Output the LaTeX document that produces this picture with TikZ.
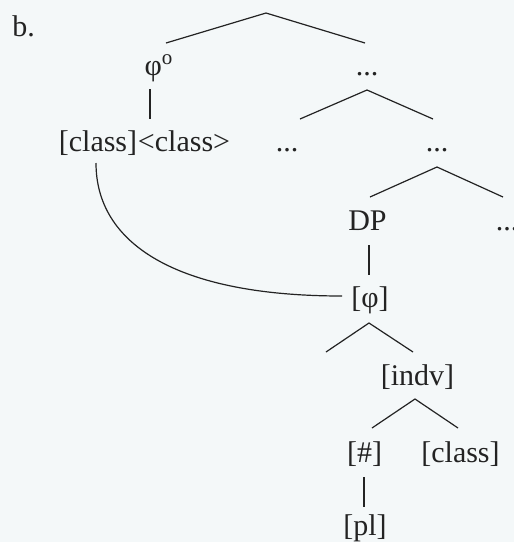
\documentclass[tikz,border=0pt]{standalone}
\usepackage{fontspec}
\setmainfont{Liberation Serif}
\definecolor{bgc}{RGB}{244,248,249}
\definecolor{ink}{RGB}{35,35,35}
\begin{document}
\begin{tikzpicture}[x=0.5pt,y=-0.5pt,
  lbl/.style={anchor=base, inner sep=0pt, text=ink, font=\fontsize{15}{18}\selectfont},
  edge/.style={draw=ink, line width=0.6pt}]
\fill[bgc] (0,0) rectangle (514,542);
\useasboundingbox (0,0) rectangle (514,542);

% labels
\node[lbl, anchor=base west] (b) at (12,36) {b.};
\node[lbl] (phio) at (159,75) {φ\textsuperscript{o}};
\node[lbl] (d1) at (367,75) {...};
\node[lbl] (cls1) at (98,151) {[class]};
\node[lbl, anchor=base west] (cls2) at (cls1.base east) {<class>};
\node[lbl] (d2) at (287,151) {...};
\node[lbl] (d3) at (437,151) {...};
\node[lbl] (dp) at (367.5,230) {DP};
\node[lbl] (d4) at (507,230) {...};
\node[lbl] (phi) at (370,307) {[φ]};
\node[lbl] (indv) at (417.5,385) {[indv]};
\node[lbl] (num) at (364.5,462) {[\#]};
\node[lbl] (cls3) at (460.5,462) {[class]};
\node[lbl] (pl) at (365,535) {[pl]};

% branching points and branch ends
\coordinate (root) at (266,13);
\coordinate (root-l) at (166,43);
\coordinate (root-r) at (365,43);
\coordinate (phio-b) at (150,89);
\coordinate (cls-t) at (150,119);
\coordinate (d1-b) at (367,90);
\coordinate (d2-t) at (300,119);
\coordinate (d3-t) at (433,119);
\coordinate (d3-b) at (437,167);
\coordinate (dp-t) at (370,197);
\coordinate (d4-t) at (503,197);
\coordinate (dp-b) at (369,245);
\coordinate (phi-t) at (369,275);
\coordinate (phi-b) at (369,323);
\coordinate (phi-l) at (326,352);
\coordinate (indv-t) at (413,352);
\coordinate (indv-b) at (415,399);
\coordinate (num-t) at (372,428);
\coordinate (cls3-t) at (458,428);
\coordinate (num-b) at (364,477);
\coordinate (pl-t) at (364,507);
\coordinate (cls1-b) at (96,163);
\coordinate (phi-w) at (342,296);

% branches
\draw[edge] (root-l) -- (root) -- (root-r);
\draw[edge] (phio-b) -- (cls-t);
\draw[edge] (d2-t) -- (d1-b) -- (d3-t);
\draw[edge] (dp-t) -- (d3-b) -- (d4-t);
\draw[edge] (dp-b) -- (phi-t);
\draw[edge] (phi-l) -- (phi-b) -- (indv-t);
\draw[edge] (num-t) -- (indv-b) -- (cls3-t);
\draw[edge] (num-b) -- (pl-t);

% agreement link
\draw[edge] (cls1-b) .. controls +(0,80) and +(-167,0) .. (phi-w);
\end{tikzpicture}
\end{document}
